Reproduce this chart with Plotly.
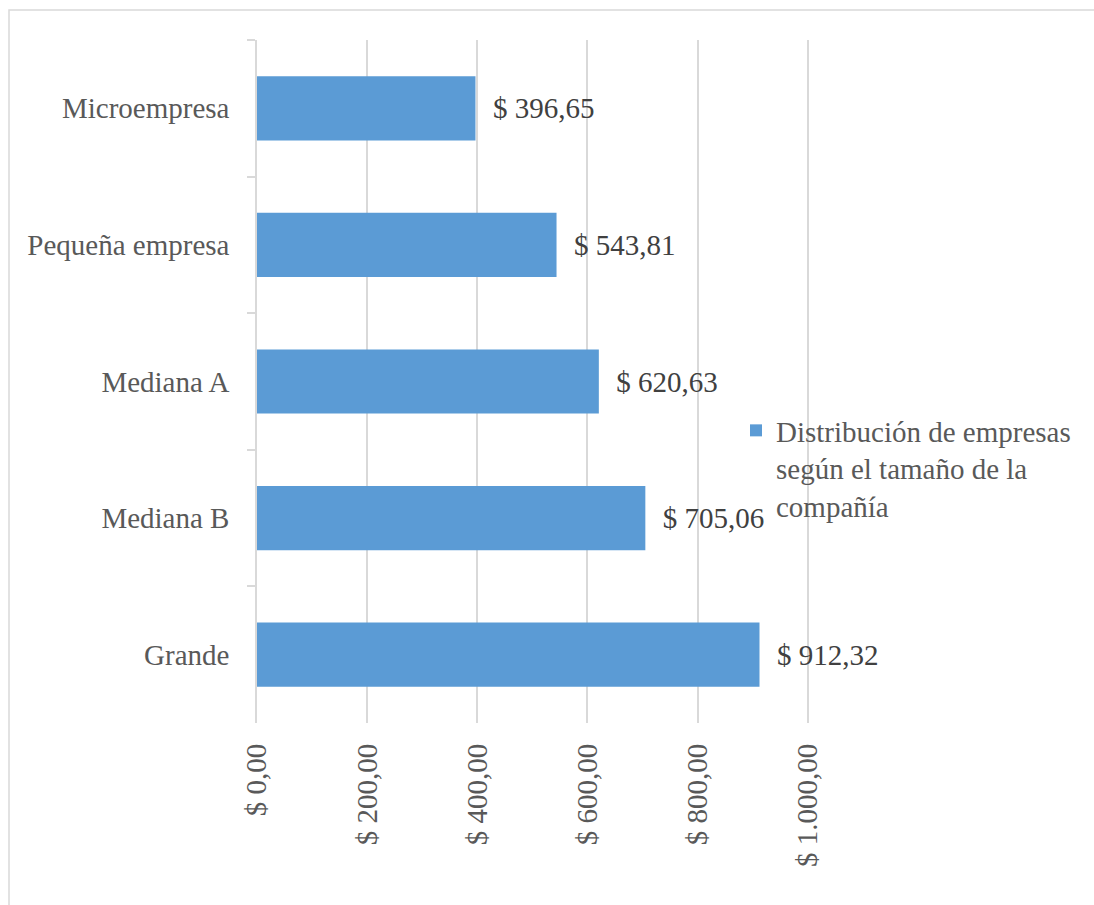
import plotly.graph_objects as go

categories = ["Microempresa", "Pequeña empresa", "Mediana A", "Mediana B", "Grande"]
values = [396.65, 543.81, 620.63, 705.06, 912.32]
series_name = "Distribución de empresas<br>según el tamaño de la<br>compañía"

FONT = "Liberation Serif, Times New Roman, serif"
GRID = "#d9d9d9"

fig = go.Figure()
fig.add_trace(go.Bar(
    x=values,
    y=categories,
    orientation="h",
    name=series_name,
    marker=dict(color="#5B9BD5", line=dict(width=0)),
    texttemplate="\u00a0\u00a0$ %{x:,.2f}",
    textposition="outside",
    textfont=dict(family=FONT, size=29, color="#404040"),
    cliponaxis=False,
    showlegend=True,
))

W, H = 1094, 905
L, R, T, B = 257, 284, 40, 182
pw, ph = W - L - R, H - T - B

def px_x(p):
    return (p - L) / pw

def px_y(p):
    return (H - B - p) / ph

fig.update_layout(
    width=W, height=H,
    margin=dict(l=L, r=R, t=T, b=B),
    paper_bgcolor="white",
    plot_bgcolor="white",
    separators=",.",
    bargap=0.53,
    font=dict(family=FONT, size=29, color="#595959"),
    showlegend=True,
    legend=dict(
        x=px_x(736), y=px_y(405), xanchor="left", yanchor="top",
        bgcolor="rgba(0,0,0,0)",
        font=dict(family=FONT, size=29, color="#595959"),
        valign="top",
        itemwidth=30,
        tracegroupgap=0,
    ),
    xaxis=dict(
        range=[0, 1004],
        tickmode="linear",
        tick0=0,
        dtick=200,
        tickprefix="$ ",
        showtickprefix="all",
        tickformat=",.2f",
        tickangle=-90,
        showgrid=True,
        gridcolor=GRID,
        gridwidth=1.5,
        zeroline=False,
        showline=False,
        ticks="",
        ticklabelstandoff=14,
        tickfont=dict(family=FONT, size=29, color="#595959"),
    ),
    yaxis=dict(
        autorange="reversed",
        showline=True,
        linecolor=GRID,
        linewidth=1.5,
        ticks="outside",
        tickson="boundaries",
        ticklen=8,
        tickcolor=GRID,
        tickwidth=1.5,
        ticklabelstandoff=20,
        showgrid=False,
        tickfont=dict(family=FONT, size=29, color="#595959"),
    ),
    shapes=[dict(
        type="rect", xref="paper", yref="paper",
        x0=px_x(9), x1=px_x(1110), y0=px_y(920), y1=px_y(10),
        line=dict(color=GRID, width=1.5),
        fillcolor="rgba(0,0,0,0)",
        layer="below",
    )],
)

fig.write_html(
    "out.html",
    config={"displayModeBar": False},
    post_script="document.body.style.margin='0';",
)
